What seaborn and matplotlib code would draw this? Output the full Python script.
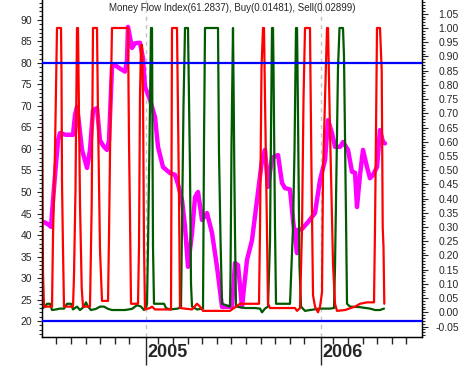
import numpy as np
import pandas as pd
import matplotlib
matplotlib.use('Agg')
import matplotlib.pyplot as plt
import matplotlib.ticker as mticker
import seaborn as sns

# money flow index (left scale), x in decimal years
mfi_t = [2004.4171, 2004.440, 2004.4571, 2004.4743, 2004.4971, 2004.5086, 2004.5429, 2004.5829,
         2004.5943, 2004.6057, 2004.6171, 2004.6343, 2004.6629, 2004.68, 2004.6971, 2004.72,
         2004.7371, 2004.76, 2004.7771, 2004.7886, 2004.8057, 2004.8229, 2004.8514, 2004.88,
         2004.8914, 2004.8971, 2004.92, 2004.9371, 2004.9657, 2004.9829, 2004.9943, 2005.0229,
         2005.0514, 2005.0686, 2005.0971, 2005.1371, 2005.1657, 2005.1829, 2005.2057, 2005.2229,
         2005.24, 2005.2629, 2005.28, 2005.2971, 2005.32, 2005.3486, 2005.3771, 2005.4057,
         2005.4343, 2005.4914, 2005.5086, 2005.5257, 2005.5486, 2005.5771, 2005.6057, 2005.6343,
         2005.6629, 2005.68, 2005.6971, 2005.72, 2005.7543, 2005.7771, 2005.7943, 2005.8229,
         2005.84, 2005.8629, 2005.8686, 2005.8914, 2005.9257, 2005.9657, 2005.9943, 2006.0229,
         2006.04, 2006.0629, 2006.08, 2006.1086, 2006.1257, 2006.1543, 2006.1771, 2006.1943,
         2006.2057, 2006.2229, 2006.24, 2006.2629, 2006.28, 2006.2971, 2006.32, 2006.3371,
         2006.3543, 2006.3657]
mfi_v = [43.0, 42.5, 41.9, 51.0, 62.0, 63.7, 63.3, 63.3,
         67.9, 69.8, 66.0, 59.8, 55.6, 59.8, 69.0, 69.5,
         62.0, 60.5, 59.8, 62.0, 79.1, 79.5, 78.7, 78.0,
         80.7, 88.4, 83.5, 84.6, 84.7, 81.1, 74.5, 71.4,
         67.4, 60.5, 55.8, 54.4, 54.0, 51.8, 48.1, 41.9,
         32.6, 40.5, 48.8, 50.0, 43.5, 45.1, 40.5, 32.6,
         23.3, 23.3, 33.5, 33.0, 23.3, 34.2, 38.8, 48.1,
         57.4, 59.8, 51.2, 58.0, 58.6, 52.1, 50.9, 50.6,
         43.5, 35.8, 41.2, 41.4, 43.0, 45.1, 52.8, 57.4,
         66.7, 63.7, 60.5, 60.5, 61.6, 59.8, 54.7, 54.5,
         46.5, 54.0, 59.8, 55.8, 53.2, 54.0, 55.8, 64.4,
         61.6, 61.3]

# sell signal (right scale)
sell_t = [2004.4057, 2004.4114, 2004.4171, 2004.4629, 2004.4686, 2004.48, 2004.4914, 2004.5143,
          2004.5171, 2004.52, 2004.5257, 2004.5314, 2004.5829, 2004.5886, 2004.5971, 2004.6057,
          2004.6114, 2004.6229, 2004.6326, 2004.64, 2004.68, 2004.6897, 2004.6971, 2004.72,
          2004.7257, 2004.7371, 2004.7486, 2004.7829, 2004.7886, 2004.7971, 2004.8057, 2004.8971,
          2004.9029, 2004.9086, 2004.9143, 2004.9543, 2004.96, 2004.9657, 2004.9714, 2004.9771,
          2004.9829, 2004.9886, 2004.9943, 2005.0229, 2005.0343, 2005.0514, 2005.1429, 2005.1457,
          2005.1486, 2005.1771, 2005.1829, 2005.1886, 2005.1943, 2005.2629, 2005.2914, 2005.3086,
          2005.3257, 2005.48, 2005.5371, 2005.6457, 2005.6514, 2005.66, 2005.6686, 2005.6743,
          2005.68, 2005.6886, 2005.6971, 2005.7086, 2005.8514, 2005.8629, 2005.88, 2005.8914,
          2005.9, 2005.9086, 2005.9371, 2005.94, 2005.9457, 2005.9543, 2005.9657, 2005.9829,
          2005.9943, 2006.0057, 2006.0114, 2006.0229, 2006.0343, 2006.04, 2006.0514, 2006.06,
          2006.0686, 2006.08, 2006.0914, 2006.1371, 2006.1943, 2006.2229, 2006.2629, 2006.3029,
          2006.3086, 2006.3143, 2006.32, 2006.3371, 2006.3469, 2006.3526, 2006.3571, 2006.3617]
sell_v = [0.74, 0.14, 0.02, 0.02, 0.27, 0.57, 1.0, 1.0,
          0.84, 0.46, 0.22, 0.02, 0.02, 0.13, 0.43, 1.0,
          1.0, 0.38, 0.085, 0.02, 0.02, 0.38, 1.0, 1.0,
          0.69, 0.22, 0.04, 0.04, 0.27, 0.70, 1.0, 1.0,
          0.60, 0.33, 0.03, 0.03, 0.23, 0.76, 0.94, 0.94,
          0.76, 0.23, 0.01, 0.015, 0.02, 0.01, 0.01, 0.50,
          1.0, 1.0, 0.70, 0.40, 0.015, 0.01, 0.03, 0.02,
          0.005, 0.005, 0.03, 0.03, 0.29, 0.86, 1.0, 1.0,
          0.75, 0.40, 0.03, 0.015, 0.015, 0.005, 0.015, 0.29,
          0.75, 1.0, 1.0, 0.82, 0.49, 0.06, 0.02, 0.0,
          0.02, 0.07, 0.49, 0.75, 1.0, 1.0, 0.64, 0.41,
          0.17, 0.03, 0.005, 0.008, 0.02, 0.03, 0.035, 0.035,
          0.30, 0.64, 1.0, 1.0, 0.85, 0.30, 0.23, 0.03]

# buy signal (right scale)
buy_t = [2004.4057, 2004.4229, 2004.4343, 2004.4514, 2004.4629, 2004.4857, 2004.5086, 2004.5314,
         2004.5486, 2004.5714, 2004.5829, 2004.6057, 2004.6229, 2004.6457, 2004.6571, 2004.6686,
         2004.6857, 2004.7143, 2004.7371, 2004.76, 2004.7829, 2004.8057, 2004.88, 2004.92,
         2004.9486, 2004.9714, 2004.9886, 2005.0, 2005.0057, 2005.0114, 2005.02, 2005.0286,
         2005.0343, 2005.0371, 2005.04, 2005.0457, 2005.1029, 2005.1143, 2005.1371, 2005.1829,
         2005.2, 2005.2057, 2005.2143, 2005.2229, 2005.24, 2005.2457, 2005.2514, 2005.2571,
         2005.2629, 2005.2914, 2005.3257, 2005.3286, 2005.3314, 2005.3371, 2005.4114, 2005.4171,
         2005.4257, 2005.4343, 2005.48, 2005.4829, 2005.4886, 2005.4971, 2005.5011, 2005.5046,
         2005.5086, 2005.5143, 2005.5657, 2005.6229, 2005.6514, 2005.6629, 2005.68, 2005.6971,
         2005.7086, 2005.7143, 2005.72, 2005.7257, 2005.7286, 2005.7371, 2005.7429, 2005.8229,
         2005.84, 2005.8486, 2005.8571, 2005.8629, 2005.8657, 2005.8714, 2005.8771, 2005.8857,
         2005.9086, 2005.9371, 2005.9943, 2006.0514, 2006.0743, 2006.08, 2006.0886, 2006.0971,
         2006.1057, 2006.1257, 2006.1314, 2006.1371, 2006.1429, 2006.1486, 2006.1657, 2006.2229,
         2006.28, 2006.3086, 2006.3371, 2006.36]
buy_v = [0.013, 0.02, 0.03, 0.03, 0.008, 0.01, 0.013, 0.013,
         0.03, 0.03, 0.01, 0.02, 0.008, 0.02, 0.035, 0.02,
         0.008, 0.012, 0.02, 0.02, 0.012, 0.008, 0.008, 0.012,
         0.025, 0.02, 0.008, 0.015, 0.03, 0.23, 0.60, 1.0,
         1.0, 0.60, 0.23, 0.03, 0.03, 0.015, 0.01, 0.013,
         0.02, 0.30, 0.73, 1.0, 1.0, 0.75, 0.50, 0.10,
         0.02, 0.01, 0.013, 0.30, 0.59, 1.0, 1.0, 0.56,
         0.26, 0.03, 0.02, 0.13, 0.59, 1.0, 0.75, 0.50,
         0.27, 0.02, 0.015, 0.015, 0.013, 0.0, 0.013, 0.02,
         0.25, 0.64, 1.0, 1.0, 0.86, 0.30, 0.03, 0.03,
         0.30, 0.57, 1.0, 1.0, 0.86, 0.51, 0.16, 0.02,
         0.005, 0.008, 0.013, 0.013, 0.015, 0.16, 0.51, 0.86,
         1.0, 1.0, 0.90, 0.62, 0.33, 0.03, 0.02, 0.018,
         0.013, 0.008, 0.008, 0.013]

years = [2005, 2006]
title = 'Money Flow Index(61.2837), Buy(0.01481), Sell(0.02899)'

sns.set_style('ticks')
plt.rcParams['font.family'] = ['Liberation Sans', 'DejaVu Sans']

W, H = 464, 366
fig = plt.figure(figsize=(W / 100, H / 100), dpi=100)
ax = fig.add_axes([42 / W, 1 - 337 / H, 380 / W, 337 / H])
ax2 = ax.twinx()

df_mfi = pd.DataFrame({'t': mfi_t, 'v': mfi_v})
df_sell = pd.DataFrame({'t': sell_t, 'v': sell_v})
df_buy = pd.DataFrame({'t': buy_t, 'v': buy_v})

for y in years:
    ax.axvline(y, color='#c4c4c4', lw=1, ls=(0, (3, 3)), zorder=1)
sns.lineplot(data=df_mfi, x='t', y='v', ax=ax, color='#ff00ff', lw=3.2,
             estimator=None, sort=False, zorder=3)
sns.lineplot(data=df_buy, x='t', y='v', ax=ax2, color='#005a00', lw=1.6,
             estimator=None, sort=False)
sns.lineplot(data=df_sell, x='t', y='v', ax=ax2, color='#ff0000', lw=1.6,
             estimator=None, sort=False)
# 80 / 20 levels on the MFI scale, drawn above the signal lines
for lvl in [80, 20]:
    ax2.plot([0, 1], [lvl, lvl], color='#0000ff', lw=1.6,
             transform=ax.get_yaxis_transform(), zorder=5)

ax.set_xlim(2004.4057, 2006.5771)
ax.set_ylim(16.28, 94.65)
ax2.set_ylim(-0.0869, 1.0985)

# left axis
ax.yaxis.set_major_locator(mticker.FixedLocator(np.arange(20, 91, 5)))
ax.yaxis.set_minor_locator(mticker.MultipleLocator(1))
ax.tick_params(axis='y', which='major', length=3.6, width=0.8, pad=3.6, labelsize=7.5)
ax.tick_params(axis='y', which='minor', length=2.2, width=0.8)

# right axis
ax2.yaxis.set_major_locator(mticker.FixedLocator(np.round(np.arange(-0.05, 1.051, 0.05), 2)))
ax2.yaxis.set_major_formatter(mticker.FormatStrFormatter('%.2f'))
ax2.yaxis.set_minor_locator(mticker.MultipleLocator(0.01))
ax2.tick_params(axis='y', which='major', length=4.3, width=0.8, pad=22.3, labelsize=7.5)
ax2.tick_params(axis='y', which='minor', length=2.2, width=0.8)
for lab in ax2.get_yticklabels():
    lab.set_horizontalalignment('right')

# bottom axis: monthly ticks, long year ticks with labels beside them
months = [2004 + m / 12 - 0.012 for m in range(5, 31) if m % 12 != 0]
ax.xaxis.set_major_locator(mticker.FixedLocator(years))
ax.xaxis.set_major_formatter(mticker.NullFormatter())
ax.xaxis.set_minor_locator(mticker.FixedLocator(months))
ax.tick_params(axis='x', which='major', length=20, width=1)
ax.tick_params(axis='x', which='minor', length=5, width=1)
for y in years:
    ax.annotate(str(y), xy=(y, 0), xycoords=('data', 'axes fraction'),
                xytext=(1.2, -11), textcoords='offset points',
                ha='left', va='center', fontsize=13, fontweight='bold')

ax.set_xlabel('')
ax.set_ylabel('')
ax2.set_ylabel('')
for a in (ax, ax2):
    a.spines['top'].set_visible(False)
    for s in ('left', 'right', 'bottom'):
        a.spines[s].set_color('black')
        a.spines[s].set_linewidth(0.9)

ax.text(0.5, 1 - 8 / 337, title, transform=ax.transAxes, ha='center', va='center', fontsize=7)

fig.savefig('out.png', dpi=100)
